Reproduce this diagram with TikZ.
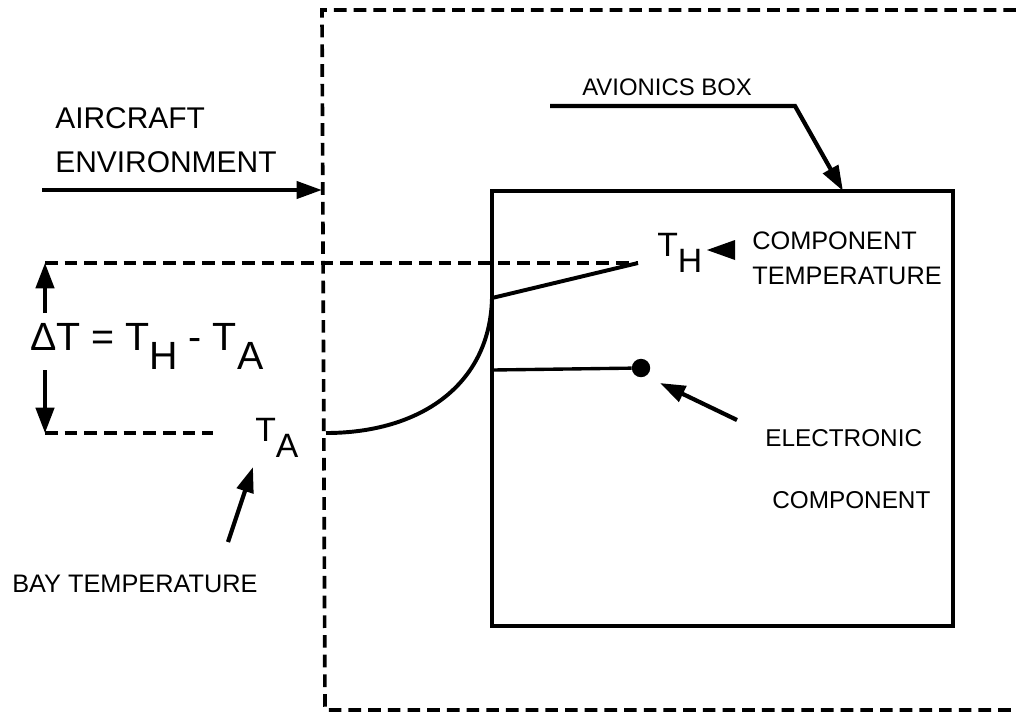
\documentclass[tikz,border=0pt]{standalone}
\usepackage{fontspec}
\setmainfont{Liberation Sans}
\usetikzlibrary{arrows.meta}
\tikzset{
  lbl/.style={inner sep=0pt, anchor=base west, font=\fontsize{18}{20}\selectfont},
  sym/.style={inner sep=0pt, anchor=base west, font=\fontsize{24}{26}\selectfont},
  leader/.style={line width=3pt, -{Triangle[length=18pt,width=12pt]}},
  dimarrow/.style={line width=2.6pt, -{Triangle[length=18pt,width=13pt]}},
  wire/.style={line width=2.4pt},
  dashline/.style={line width=2.6pt, dash pattern=on 9pt off 5pt},
}
\newcommand{\sub}[1]{\lower0.5em\hbox{#1}}

\begin{document}
\begin{tikzpicture}[x=0.025cm,y=-0.025cm]
\useasboundingbox (0,0) rectangle (1016,713);
% enclosure and box
\draw[dashline] (1016,10) -- (322,10) -- (325,710) -- (1016,710);
\draw[wire] (492,191) rectangle (953,626);
% labels
\node[lbl, font=\fontsize{21.3}{24}\selectfont] (air) at (55,128) {AIRCRAFT};
\node[lbl, font=\fontsize{21.3}{24}\selectfont] (env) at (55,172) {ENVIRONMENT};
\node[lbl, font=\fontsize{17}{20}\selectfont] (avb) at (582,95) {AVIONICS BOX};
\node[lbl] (cmp) at (752,249) {COMPONENT};
\node[lbl] (tmp) at (752,284) {TEMPERATURE};
\node[lbl, font=\fontsize{17.3}{20}\selectfont] (ele) at (765,446) {ELECTRONIC};
\node[lbl, font=\fontsize{17.3}{20}\selectfont] (ecp) at (772,508) {COMPONENT};
\node[lbl] (bay) at (12,592) {BAY TEMPERATURE};
\node[sym] (th) at (657,256) {T\sub{H}};
\node[sym] (ta) at (255,441) {T\sub{A}};
\node[sym, font=\fontsize{28}{30}\selectfont] (dt) at (30,350) {ΔT = T\sub{H} - T\sub{A}};
% points
\coordinate (envtail) at (42,190);
\coordinate (envtip) at (322,190);
\coordinate (avbl) at (550,106);
\coordinate (avbk) at (795,106);
\coordinate (boxtop) at (843,191);
\coordinate (hot) at (638,263);
\coordinate (wallhi) at (492,298);
\coordinate (walllo) at (492,370);
\coordinate (dimtop) at (45,263);
\coordinate (dimbot) at (45,433);
\coordinate (bayend) at (213,433);
\coordinate (amb) at (326,433);
\node[circle, fill, inner sep=0pt, minimum size=0.46cm] (dot) at (641,368) {};
% connectors
\draw[leader] (envtail) -- (envtip);
\draw[leader] (avbl) -- (avbk) -- (boxtop);
\draw[dashline] (dimtop) -- (hot);
\draw[wire, line width=2.8pt] (wallhi) -- (hot);
\draw[dimarrow] (45,313) -- (dimtop);
\draw[dimarrow] (45,370) -- (dimbot);
\draw[dashline] (dimbot) -- (bayend);
\draw[wire, line width=2.8pt] (amb) .. controls (420,433) and (490,385) .. (wallhi);
\draw[wire] (walllo) -- (dot);
\fill (707,250) -- (735,240) -- (735,260) -- cycle;
\draw[leader] (737,420) -- (660,383);
\draw[leader] (228,542) -- (253,467);
\end{tikzpicture}
\end{document}
